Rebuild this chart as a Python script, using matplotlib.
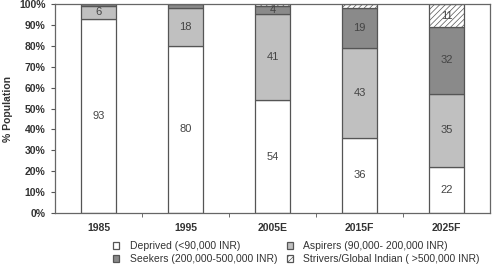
import matplotlib
matplotlib.use('Agg')

import numpy as np
import matplotlib.pyplot as plt

# data (% of population)
years = ['1985', '1995', '2005E', '2015F', '2025F']
deprived = [93, 80, 54, 36, 22]
aspirers = [6, 18, 41, 43, 35]
seekers = [1, 2, 4, 19, 32]
strivers = [0, 0, 1, 2, 11]

labels = ['Deprived (<90,000 INR)', 'Aspirers (90,000- 200,000 INR)',
          'Seekers (200,000-500,000 INR)', 'Strivers/Global Indian ( >500,000 INR)']

plt.rcParams['font.family'] = ['Liberation Sans', 'DejaVu Sans']
plt.rcParams['hatch.color'] = '#9a9a9a'
plt.rcParams['hatch.linewidth'] = 0.5

fig = plt.figure(figsize=(4.92, 2.68), dpi=100)
ax = fig.add_axes([0.112, 0.205, 0.884, 0.78])

x = np.arange(len(years))
w = 0.4
edge = '#555555'
series = [deprived, aspirers, seekers, strivers]
faces = ['white', '#c0c0c0', '#8a8a8a', 'white']
hatches = [None, None, None, '//////']

bottom = np.zeros(len(years))
handles = []
for vals, fc, h, lab in zip(series, faces, hatches, labels):
    vals = np.array(vals, dtype=float)
    bars = ax.bar(x, vals, w, bottom=bottom, color=fc, edgecolor=edge,
                  linewidth=0.9, hatch=h, label=lab)
    handles.append(bars)
    for xi, b, v in zip(x, bottom, vals):
        if v >= 4:
            ax.text(xi, b + v / 2, '%d' % v, ha='center', va='center',
                    fontsize=8, color='#444444')
    bottom += vals

ax.set_xlim(-0.5, 4.5)
ax.set_ylim(0, 100)
ax.set_yticks(np.arange(0, 101, 10))
ax.set_yticklabels(['%d%%' % v for v in range(0, 101, 10)], fontsize=7.5,
                   fontweight='bold', color='#333333')
ax.set_xticks(x)
ax.set_xticklabels(years, fontsize=7.5, fontweight='bold', color='#333333')
ax.tick_params(axis='x', length=0, pad=7)
ax.set_xticks(np.arange(0.5, 4.5, 1), minor=True)
ax.tick_params(axis='x', which='minor', length=3, color='#555555')
ax.tick_params(axis='y', length=3, color='#555555', pad=4)
ax.set_ylabel('% Population', fontsize=7.5, fontweight='bold', color='#333333',
              labelpad=4)
for s in ax.spines.values():
    s.set_color('#666666')
    s.set_linewidth(0.9)

# legend fills column-wise, so reorder to get two rows like the original
order = [0, 2, 1, 3]
fig.legend(handles=[handles[i] for i in order], labels=[labels[i] for i in order],
           loc='lower left', bbox_to_anchor=(0.215, -0.012), ncol=2,
           frameon=False, fontsize=7.5, handlelength=0.6, handleheight=0.6,
           handletextpad=1.0, columnspacing=0.9, labelspacing=0.25,
           labelcolor='#333333', borderaxespad=0.3)

fig.savefig('out.png', dpi=100)
